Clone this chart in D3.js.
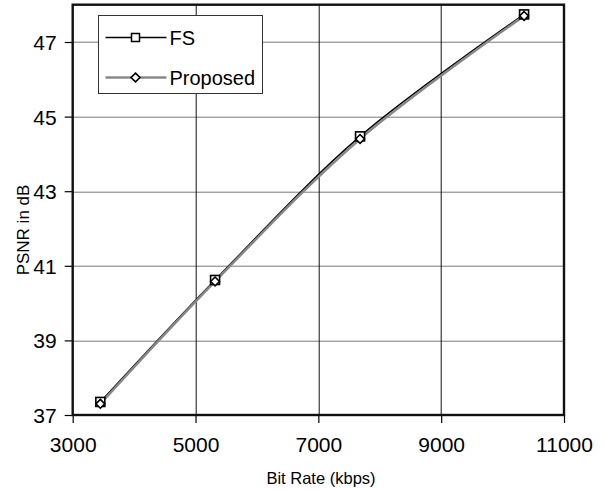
<!DOCTYPE html>
<html>
<head>
<meta charset="utf-8">
<script src="https://cdn.jsdelivr.net/npm/d3@7/dist/d3.min.js"></script>
<style>
  body { margin: 0; background: #fff; }
  svg text { font-family: "Liberation Sans", Arial, sans-serif; fill: #000; }
</style>
</head>
<body>
<div id="chart"></div>
<script>
// data
const bitRate = [3450, 5318, 7679, 10350];
const psnrFS = [37.35, 40.62, 44.47, 47.74];
const psnrProposed = [37.30, 40.58, 44.40, 47.70];
const xTicks = [3000, 5000, 7000, 9000, 11000];
const yTicks = [37, 39, 41, 43, 45, 47];

const W = 605, H = 489;
const margin = {top: 4.7, left: 72.7, right: 41, bottom: 74};
const width = W - margin.left - margin.right;
const height = H - margin.top - margin.bottom;

const svg = d3.select("#chart").append("svg")
    .attr("width", W).attr("height", H);
const g = svg.append("g").attr("transform", `translate(${margin.left},${margin.top})`);

const x = d3.scaleLinear().domain([3000, 11000]).range([0, width]);
const y = d3.scaleLinear().domain([37, 48]).range([height, 0]);

// grid
g.append("g").selectAll("line").data(yTicks.slice(1)).join("line")
    .attr("x1", 0).attr("x2", width)
    .attr("y1", d => Math.round(y(d)) + 0.5).attr("y2", d => Math.round(y(d)) + 0.5)
    .attr("stroke", "#777").attr("stroke-width", 1);
g.append("g").selectAll("line").data(xTicks.slice(1, -1)).join("line")
    .attr("y1", 0).attr("y2", height)
    .attr("x1", d => Math.round(x(d)) + 0.5).attr("x2", d => Math.round(x(d)) + 0.5)
    .attr("stroke", "#111").attr("stroke-width", 1);

// axes
const xAxis = g.append("g").attr("transform", `translate(0,${height})`)
    .call(d3.axisBottom(x).tickValues(xTicks).tickFormat(d3.format("d")).tickSize(8).tickPadding(14));
const yAxis = g.append("g")
    .call(d3.axisLeft(y).tickValues(yTicks).tickFormat(d3.format("d")).tickSize(8).tickPadding(8));
[xAxis, yAxis].forEach(a => {
  a.select(".domain").remove();
  a.selectAll(".tick line").attr("stroke", "#000").attr("stroke-width", 1.2);
  a.selectAll(".tick text").style("font-size", "21px")
    .style("font-family", "'Liberation Sans', Arial, sans-serif");
});
yAxis.selectAll(".tick text").attr("dy", "0.36em");

// frame
g.append("rect").attr("width", width).attr("height", height)
    .attr("fill", "none").attr("stroke", "#111").attr("stroke-width", 2.4);

// lines
const line = d3.line().x(d => x(d[0])).y(d => y(d[1])).curve(d3.curveCatmullRom.alpha(0.5));
const fsData = d3.zip(bitRate, psnrFS);
const propData = d3.zip(bitRate, psnrProposed);

g.append("path").datum(fsData).attr("d", line)
    .attr("fill", "none").attr("stroke", "#000").attr("stroke-width", 1.5);
g.append("path").datum(propData).attr("d", line)
    .attr("fill", "none").attr("stroke", "#888").attr("stroke-width", 2.5);

// markers
g.append("g").selectAll("rect").data(fsData).join("rect")
    .attr("x", d => x(d[0]) - 4.5).attr("y", d => y(d[1]) - 4.5)
    .attr("width", 9).attr("height", 9)
    .attr("fill", "#fff").attr("stroke", "#000").attr("stroke-width", 1.6);
const diamond = d3.symbol().type(d3.symbolDiamond2).size(50);
g.append("g").selectAll("path").data(propData).join("path")
    .attr("transform", d => `translate(${x(d[0])},${y(d[1])}) rotate(0)`)
    .attr("d", diamond)
    .attr("fill", "#fff").attr("stroke", "#000").attr("stroke-width", 1.6);

// legend
const lg = svg.append("g").attr("transform", "translate(98.5,15.5)");
lg.append("rect").attr("width", 164).attr("height", 78)
    .attr("fill", "#fff").attr("stroke", "#333").attr("stroke-width", 1);
lg.append("line").attr("x1", 7).attr("x2", 68).attr("y1", 22).attr("y2", 22)
    .attr("stroke", "#000").attr("stroke-width", 1.5);
lg.append("rect").attr("x", 33).attr("y", 18).attr("width", 8).attr("height", 8)
    .attr("fill", "#fff").attr("stroke", "#000").attr("stroke-width", 1.5);
lg.append("line").attr("x1", 7).attr("x2", 68).attr("y1", 62).attr("y2", 62)
    .attr("stroke", "#888").attr("stroke-width", 2.5);
lg.append("path").attr("transform", "translate(37,62)").attr("d", diamond)
    .attr("fill", "#fff").attr("stroke", "#000").attr("stroke-width", 1.6);
lg.append("text").attr("x", 71).attr("y", 29.5).style("font-size", "20px").text("FS");
lg.append("text").attr("x", 71).attr("y", 69.5).style("font-size", "20px").text("Proposed");

// axis titles
svg.append("text").attr("x", 321).attr("y", 484).attr("text-anchor", "middle")
    .style("font-size", "16.5px").text("Bit Rate (kbps)");
svg.append("text").attr("transform", "translate(29,230) rotate(-90)")
    .attr("text-anchor", "middle").style("font-size", "17px").text("PSNR in dB");
</script>
</body>
</html>
